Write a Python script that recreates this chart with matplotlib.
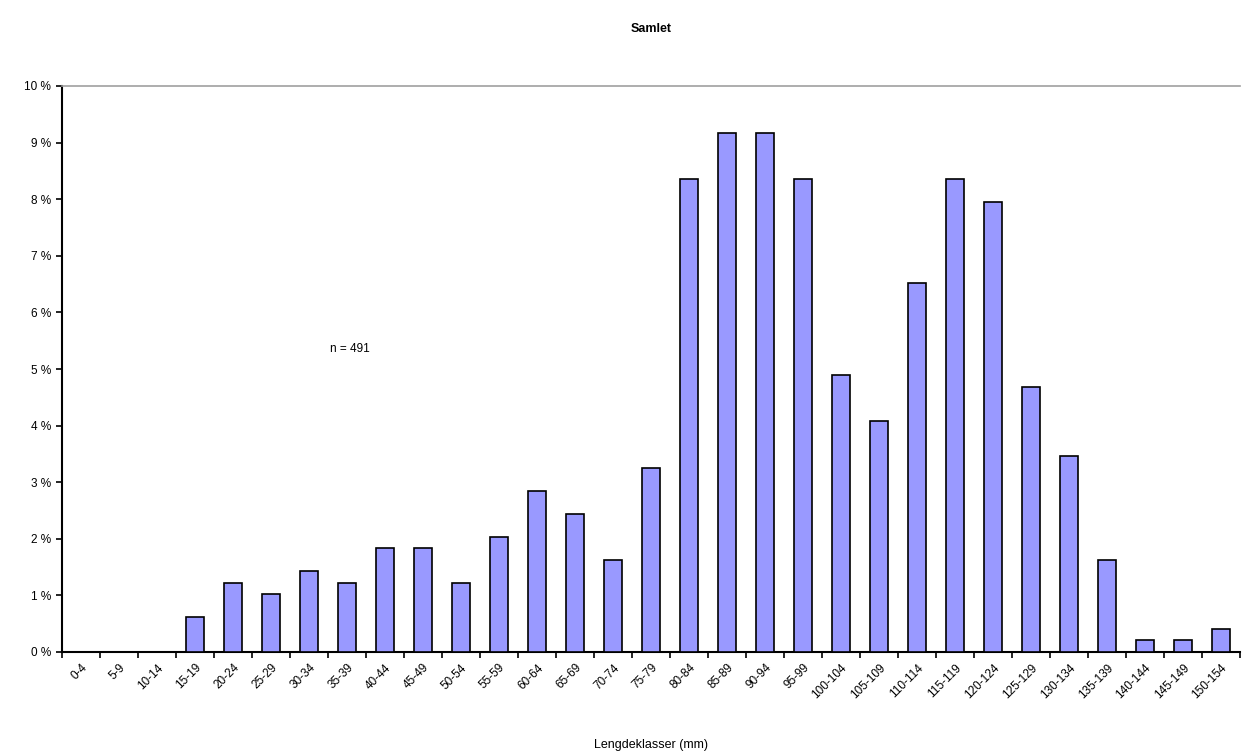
import matplotlib
matplotlib.use('Agg')
import matplotlib.pyplot as plt
import numpy as np

plt.rcParams['font.family'] = ['Liberation Sans', 'DejaVu Sans']

# lengdeklasser (mm) og antall fisk i hver klasse
klasser = ['0-4', '5-9', '10-14', '15-19', '20-24', '25-29', '30-34', '35-39',
           '40-44', '45-49', '50-54', '55-59', '60-64', '65-69', '70-74', '75-79',
           '80-84', '85-89', '90-94', '95-99', '100-104', '105-109', '110-114',
           '115-119', '120-124', '125-129', '130-134', '135-139', '140-144',
           '145-149', '150-154']
antall = [0, 0, 0, 3, 6, 5, 7, 6, 9, 9, 6, 10, 14, 12, 8, 16,
          41, 45, 45, 41, 24, 20, 32, 41, 39, 23, 17, 8, 1, 1, 2]
n = 491
prosent = np.array(antall) / n * 100

fig = plt.figure(figsize=(12.42, 7.53), dpi=100)
ax = fig.add_axes([62/1242, 1-652/753, (1240-62)/1242, (652-86)/753])

x = np.arange(len(klasser))
ax.bar(x, prosent, width=0.46, color='#9999FF', edgecolor='black', linewidth=1.2, zorder=3)

ax.set_xlim(-0.5, len(klasser) - 0.5)
ax.set_ylim(0, 10)
ax.set_yticks(range(0, 11))
ax.set_yticklabels(['%d %%' % v for v in range(0, 11)], fontsize=8.5)

# tick marks between classes, labels centered on bars
ax.set_xticks(np.arange(-0.5, len(klasser), 1.0))
ax.set_xticklabels([])
ax.set_xticks(x, minor=True)
ax.set_xticklabels(klasser, minor=True, rotation=45, ha='right', rotation_mode='anchor', fontsize=8.5)
ax.tick_params(axis='x', which='minor', length=0, pad=7)
ax.tick_params(axis='x', which='major', length=4, width=1.2, direction='out')
ax.tick_params(axis='y', length=4, width=1.2, direction='out', pad=4)

ax.spines['right'].set_visible(False)
ax.spines['top'].set_color('#A0A0A0')
ax.spines['top'].set_linewidth(1.2)
ax.spines['left'].set_linewidth(1.5)
ax.spines['bottom'].set_linewidth(1.5)

ax.text(6.55, 5.3, 'n = %d' % n, fontsize=8.5)

fig.text(651/1242, 1-29/753, 'Samlet', ha='center', va='center', fontsize=9, fontweight='bold')
fig.text(651/1242, 1-745/753, 'Lengdeklasser (mm)', ha='center', va='center', fontsize=9)

fig.savefig('out.png', dpi=100)
